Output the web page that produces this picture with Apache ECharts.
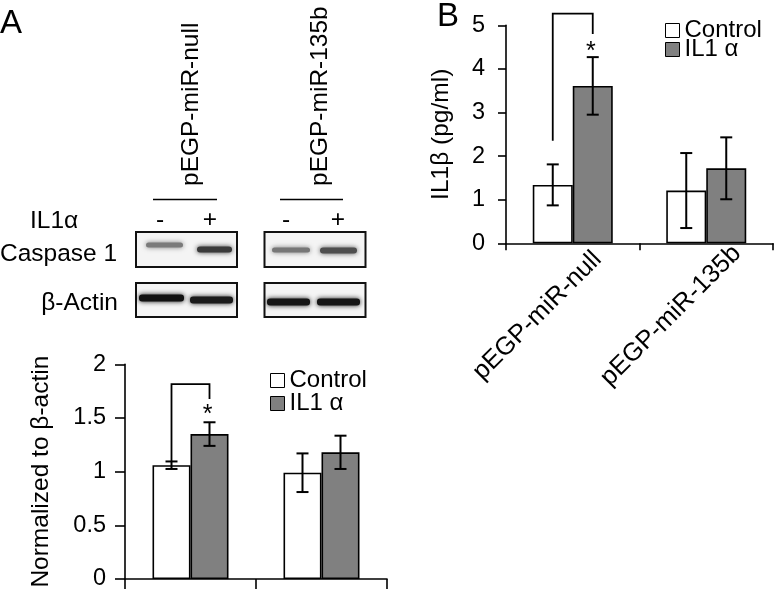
<!DOCTYPE html>
<html>
<head>
<meta charset="utf-8">
<script src="https://cdn.jsdelivr.net/npm/echarts@6/dist/echarts.min.js"></script>
<style>
html,body{margin:0;padding:0;background:#fff;}
#chart{width:776px;height:591px;}
</style>
</head>
<body>
<div id="chart"></div>
<script>
// ---- data ----
const categories = ['pEGP-miR-null', 'pEGP-miR-135b'];
const seriesNames = ['Control', 'IL1 α'];
// Panel A: Caspase 1 normalized to β-actin
const controlA = [1.06, 0.99];
const controlAErr = [0.035, 0.18];
const il1aA = [1.35, 1.18];
const il1aAErr = [0.11, 0.155];
const bracketA = [1.09, 1.815, 1.676]; // left foot, top, right foot
const starA = 1.53;
const yTicksA = [0, 0.5, 1, 1.5, 2];
// Panel B: IL1β (pg/ml)
const controlB = [1.34, 1.21];
const controlBErr = [0.47, 0.86];
const il1aB = [3.61, 1.72];
const il1aBErr = [0.66, 0.71];
const bracketB = [2.35, 5.27, 4.80];
const starB = 4.38;
const yTicksB = [0, 1, 2, 3, 4, 5];
// Blot labels
const blotLanes = ['-', '+', '-', '+'];
const blotRows = ['Caspase 1', 'β-Actin'];

const FONT = '"Liberation Sans", Arial, Helvetica, sans-serif';
const chart = echarts.init(document.getElementById('chart'));

const BW_A = 38, BW_B = 40;

function errSeries(xi, vals, errs, off) {
  return {
    type: 'custom', xAxisIndex: xi, yAxisIndex: xi, silent: true, z: 5,
    encode: { x: 0, y: 1 },
    data: vals.map((v, i) => [i, v, errs[i]]),
    renderItem: function (params, api) {
      const i = api.value(0), v = api.value(1), e = api.value(2);
      const t = api.coord([i, v + e]), b = api.coord([i, v - e]);
      const x = t[0] + off, h = 6;
      const st = { stroke: '#000', lineWidth: 2 };
      return { type: 'group', children: [
        { type: 'line', shape: { x1: x, y1: t[1], x2: x, y2: b[1] }, style: st },
        { type: 'line', shape: { x1: x - h, y1: t[1], x2: x + h, y2: t[1] }, style: st },
        { type: 'line', shape: { x1: x - h, y1: b[1], x2: x + h, y2: b[1] }, style: st }
      ]};
    }
  };
}

function bracketSeries(xi, br, star, bw) {
  return {
    type: 'custom', xAxisIndex: xi, yAxisIndex: xi, silent: true, z: 6,
    encode: { x: 0, y: 1 },
    data: [[0, br[0], br[1], br[2], star]],
    renderItem: function (params, api) {
      const i = api.value(0);
      const lf = api.coord([i, api.value(1)]), tp = api.coord([i, api.value(2)]),
            rf = api.coord([i, api.value(3)]), sp = api.coord([i, api.value(4)]);
      const xl = lf[0] - bw / 2, xr = lf[0] + bw / 2;
      return { type: 'group', children: [
        { type: 'polyline', shape: { points: [[xl, lf[1]], [xl, tp[1]], [xr, tp[1]], [xr, rf[1]]] },
          style: { stroke: '#000', lineWidth: 1.8, fill: null } },
        { type: 'text', x: xr - 2, y: sp[1],
          style: { text: '*', fontSize: 25, fontFamily: FONT, fill: '#000', align: 'center', verticalAlign: 'middle' } }
      ]};
    }
  };
}

const axisLineStyle = { lineStyle: { color: '#000', width: 1.6 } };

// ---- blot decoration (not data) ----
const graphic = [];
function txt(x, y, text, size, align, va, rot) {
  graphic.push({ type: 'text', x: x, y: y, rotation: rot || 0,
    style: { text: text, fontSize: size, fontFamily: FONT, fill: '#000', align: align, verticalAlign: va } });
}
txt(0, 7, 'A', 33, 'left', 'top');
txt(437, 0, 'B', 33, 'left', 'top');
txt(191, 186, categories[0], 24.5, 'left', 'middle', Math.PI / 2);
txt(320, 186, categories[1], 24.5, 'left', 'middle', Math.PI / 2);
graphic.push({ type: 'line', shape: { x1: 153, y1: 199.5, x2: 217, y2: 199.5 }, style: { stroke: '#000', lineWidth: 1.5 } });
graphic.push({ type: 'line', shape: { x1: 280, y1: 199.5, x2: 343, y2: 199.5 }, style: { stroke: '#000', lineWidth: 1.5 } });
txt(30, 221, 'IL1α', 24.5, 'left', 'middle');
[160, 210, 286, 338].forEach((x, i) => txt(x, 220, blotLanes[i], 24.5, 'center', 'middle'));
txt(0, 254, blotRows[0], 24.5, 'left', 'middle');
txt(118, 303, blotRows[1], 24.5, 'right', 'middle');
// boxes
[[136, 232, 101, 35], [264.5, 232, 101, 35], [136, 283, 101, 34], [264.5, 283, 101, 34]].forEach(r => {
  graphic.push({ type: 'rect', shape: { x: r[0], y: r[1], width: r[2], height: r[3] },
    style: { fill: '#f4f4f4', stroke: '#111', lineWidth: 2 }, z: 1 });
});
// bands [x, y, w, h, color]
[[146, 242.5, 37, 5, '#7a7a7a'], [197, 246.5, 35, 6, '#3a3a3a'], [272, 247.5, 38, 5, '#777777'], [320, 247.5, 37, 6, '#4e4e4e'],
 [139, 294.5, 45, 7, '#111'], [190, 296.5, 43, 7, '#1a1a1a'], [267, 298.5, 43, 7, '#151515'], [317, 298.5, 43, 7, '#151515']].forEach(b => {
  graphic.push({ type: 'rect', shape: { x: b[0], y: b[1], width: b[2], height: b[3], r: 3 },
    style: { fill: b[4], shadowBlur: 5, shadowColor: b[4] }, z: 2 });
});

function legendItem(name, left, top) {
  return { data: [name], left: left, top: top, padding: 0, icon: 'rect', itemWidth: 14, itemHeight: 14,
    selectedMode: false, textStyle: { fontSize: 24, color: '#000', fontFamily: FONT },
    itemStyle: { borderColor: '#000', borderWidth: 1 } };
}

const option = {
  animation: false,
  backgroundColor: '#fff',
  textStyle: { fontFamily: FONT },
  graphic: graphic,
  legend: [
    legendItem(seriesNames[0], 270, 368.5),
    legendItem(seriesNames[1], 270, 391.5),
    legendItem(seriesNames[0], 665, 18.5),
    legendItem(seriesNames[1], 665, 37.5)
  ],
  grid: [
    { left: 125, right: 389, top: 364.3, bottom: 11 },
    { left: 506, right: 3, top: 25.3, bottom: 347.7 }
  ],
  xAxis: [
    { type: 'category', gridIndex: 0, data: categories, axisLine: axisLineStyle,
      axisTick: { show: true, length: 10, lineStyle: { color: '#000', width: 1.6 } },
      axisLabel: { show: false } },
    { type: 'category', gridIndex: 1, data: categories, axisLine: axisLineStyle,
      axisTick: { show: true, length: 7, lineStyle: { color: '#000', width: 1.6 } },
      axisLabel: { interval: 0, rotate: 45, align: 'center', padding: [0, 100, 0, 0], margin: 37,
        fontSize: 25.5, color: '#000', fontFamily: FONT } }
  ],
  yAxis: [
    { type: 'value', gridIndex: 0, min: yTicksA[0], max: yTicksA[yTicksA.length - 1], interval: yTicksA[1] - yTicksA[0],
      axisLine: { show: true, lineStyle: { color: '#000', width: 1.6 } },
      axisTick: { show: true, length: 10, lineStyle: { color: '#000', width: 1.6 } },
      splitLine: { show: false },
      axisLabel: { fontSize: 23.5, color: '#000', margin: 19, fontFamily: FONT },
      name: 'Normalized to β-actin', nameLocation: 'middle', nameGap: 71,
      nameTextStyle: { fontSize: 24.5, color: '#000', fontFamily: FONT } },
    { type: 'value', gridIndex: 1, min: yTicksB[0], max: yTicksB[yTicksB.length - 1], interval: yTicksB[1] - yTicksB[0],
      axisLine: { show: true, lineStyle: { color: '#000', width: 1.6 } },
      axisTick: { show: true, length: 8, lineStyle: { color: '#000', width: 1.6 } },
      splitLine: { show: false },
      axisLabel: { fontSize: 23.5, color: '#000', margin: 21, fontFamily: FONT },
      name: 'IL1β (pg/ml)', nameLocation: 'middle', nameGap: 52,
      nameTextStyle: { fontSize: 24.5, color: '#000', fontFamily: FONT } }
  ],
  series: [
    { type: 'bar', name: seriesNames[0], xAxisIndex: 0, yAxisIndex: 0, data: controlA, barWidth: BW_A, barGap: '0%',
      itemStyle: { color: '#ffffff', borderColor: '#000', borderWidth: 1.6 } },
    { type: 'bar', name: seriesNames[1], xAxisIndex: 0, yAxisIndex: 0, data: il1aA, barWidth: BW_A, barGap: '0%',
      itemStyle: { color: '#808080', borderColor: '#000', borderWidth: 1.6 } },
    { type: 'bar', name: seriesNames[0], xAxisIndex: 1, yAxisIndex: 1, data: controlB, barWidth: BW_B, barGap: '0%',
      itemStyle: { color: '#ffffff', borderColor: '#000', borderWidth: 1.6 } },
    { type: 'bar', name: seriesNames[1], xAxisIndex: 1, yAxisIndex: 1, data: il1aB, barWidth: BW_B, barGap: '0%',
      itemStyle: { color: '#808080', borderColor: '#000', borderWidth: 1.6 } },
    errSeries(0, controlA, controlAErr, -BW_A / 2),
    errSeries(0, il1aA, il1aAErr, BW_A / 2),
    errSeries(1, controlB, controlBErr, -BW_B / 2),
    errSeries(1, il1aB, il1aBErr, BW_B / 2),
    bracketSeries(0, bracketA, starA, BW_A),
    bracketSeries(1, bracketB, starB, BW_B)
  ]
};
chart.setOption(option);
</script>
</body>
</html>
